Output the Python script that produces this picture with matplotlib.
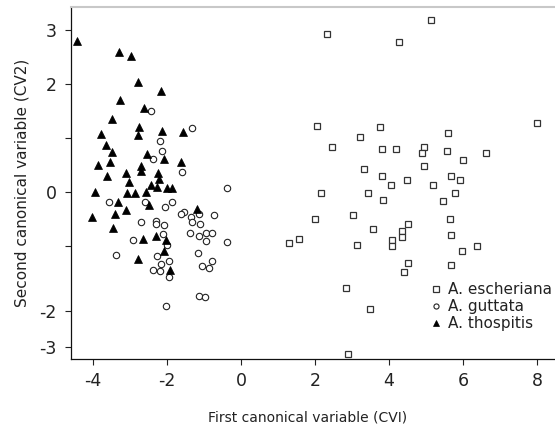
import matplotlib
matplotlib.use("Agg")
import matplotlib.pyplot as plt

plt.rcParams['font.family'] = ['DejaVu Sans']
plt.rcParams['axes.unicode_minus'] = False

# ---- data ----
esch_x = [2.32, 4.27, 5.12, 2.06, 3.75, 3.21, 5.60, 7.98, 2.47, 3.80, 4.18, 4.94,
          4.88, 5.55, 6.00, 6.62, 3.33, 4.95, 3.82, 5.68, 5.92, 4.47, 4.05, 5.19,
          2.15, 3.42, 3.83, 5.78, 5.45, 3.02, 2.00, 3.57, 4.50, 4.36, 4.34, 4.07,
          4.07, 5.64, 5.68, 5.96, 6.36, 3.13, 1.58, 1.30, 4.52, 4.40, 5.67, 2.84,
          3.48, 2.90]
esch_y = [2.92, 2.78, 3.19, 1.22, 1.21, 1.02, 1.09, 1.27, 0.84, 0.79, 0.79, 0.84,
          0.72, 0.76, 0.59, 0.73, 0.42, 0.49, 0.30, 0.30, 0.22, 0.23, 0.14, 0.13,
          -0.02, -0.01, -0.15, -0.02, -0.17, -0.43, -0.49, -0.69, -0.59, -0.72, -0.83, -0.89,
          -0.99, -0.49, -0.80, -1.09, -1.00, -0.98, -0.86, -0.95, -1.31, -1.48, -1.35, -1.78,
          -2.17, -2.99]

gutt_x = [-2.43, -1.31, -2.19, -2.12, -2.37, -1.60, -0.37, -3.55, -2.59, -2.05, -1.87, -1.54,
          -1.62, -1.14, -0.73, -1.35, -2.70, -2.29, -2.30, -2.08, -1.33, -1.10, -0.95, -0.79,
          -1.37, -1.12, -2.09, -2.92, -0.93, -0.38, -1.99, -3.38, -1.16, -2.27, -1.95, -0.79,
          -2.16, -1.06, -0.85, -2.38, -2.19, -1.94, -1.12, -0.97, -2.01]
gutt_y = [1.51, 1.19, 0.95, 0.76, 0.62, 0.38, 0.08, -0.19, -0.19, -0.27, -0.18, -0.36,
          -0.41, -0.41, -0.43, -0.47, -0.56, -0.53, -0.60, -0.61, -0.56, -0.60, -0.75, -0.76,
          -0.76, -0.81, -0.78, -0.89, -0.90, -0.93, -0.98, -1.16, -1.12, -1.19, -1.28, -1.28,
          -1.34, -1.37, -1.40, -1.44, -1.46, -1.57, -1.92, -1.94, -2.11]

thos_x = [-4.43, -3.28, -2.96, -2.79, -2.16, -3.27, -2.62, -3.47, -2.75, -3.78, -2.77, -2.14,
          -1.55, -3.63, -3.49, -2.53, -2.08, -1.63, -3.85, -3.52, -2.70, -2.70, -3.62, -3.11,
          -2.23, -3.01, -2.20, -2.44, -2.27, -1.99, -1.87, -3.95, -3.08, -2.87, -2.57, -3.32,
          -2.49, -3.09, -3.39, -4.02, -1.19, -3.46, -2.64, -2.30, -2.02, -2.07, -2.79, -1.91]
thos_y = [2.80, 2.60, 2.51, 2.04, 1.87, 1.70, 1.55, 1.36, 1.20, 1.07, 1.06, 1.13,
          1.11, 0.88, 0.74, 0.70, 0.61, 0.56, 0.51, 0.56, 0.49, 0.39, 0.29, 0.36,
          0.36, 0.19, 0.24, 0.14, 0.10, 0.07, 0.07, 0.01, -0.01, -0.02, 0.01, -0.19,
          -0.24, -0.33, -0.41, -0.46, -0.31, -0.66, -0.86, -0.82, -0.89, -1.10, -1.23, -1.44]

series_names = ["A. escheriana", "A. guttata", "A. thospitis"]

x_ticks = [-4, -2, 0, 2, 4, 6, 8]
x_tick_labels = ["-4", "-2", "0", "2", "4", "6", "8"]
y_ticks = [3, 2, 1, 0, -1, -2.2, -2.87]
y_tick_labels = ["3", "2", "", "0", "", "-2", "-3"]

x_label = "First canonical variable (CVI)"
y_label = "Second canonical variable (CV2)"

# ---- figure ----
fig = plt.figure(figsize=(5.55, 4.34), dpi=100)
ax = fig.add_axes([71/555, 1 - 359/434, 1 - 71/555, (359 - 7)/434])

ax.plot(esch_x, esch_y, linestyle='none', marker='s', markersize=4.6,
        markerfacecolor='white', markeredgecolor='#333333', markeredgewidth=0.9,
        label=series_names[0])
ax.plot(gutt_x, gutt_y, linestyle='none', marker='o', markersize=4.6,
        markerfacecolor='white', markeredgecolor='#222222', markeredgewidth=0.8,
        label=series_names[1])
ax.plot(thos_x, thos_y, linestyle='none', marker='^', markersize=5.6,
        markerfacecolor='black', markeredgecolor='black', markeredgewidth=0.5,
        label=series_names[2])

ax.set_xlim(-4.586, 8.478)
ax.set_ylim(-3.09, 3.426)

ax.set_xticks(x_ticks)
ax.set_xticklabels(x_tick_labels)
ax.set_yticks(y_ticks)
ax.set_yticklabels(y_tick_labels)

ax.tick_params(axis='both', direction='out', length=4.5, width=0.8,
               labelsize=12.5, colors='#222222')
ax.tick_params(axis='x', pad=5)
ax.tick_params(axis='y', pad=6)

for s in ['left', 'bottom']:
    ax.spines[s].set_color('#111111')
    ax.spines[s].set_linewidth(0.9)
ax.spines['top'].set_color('#c8c8c8')
ax.spines['top'].set_linewidth(1.5)
ax.spines['right'].set_visible(False)

ax.set_xlabel(x_label, fontsize=10, color='#222222')
ax.set_ylabel(y_label, fontsize=11, color='#222222')
ax.xaxis.set_label_coords(0.488, -0.145)
ax.yaxis.set_label_coords(-0.085, 0.5)

leg = ax.legend(loc='upper left', bbox_to_anchor=(0.742, 0.218), frameon=False,
                fontsize=11, handlelength=0.8, handletextpad=0.35, borderpad=0,
                borderaxespad=0, labelspacing=0.12, markerscale=0.8)
for t in leg.get_texts():
    t.set_color('#222222')

fig.savefig("out.png", dpi=100)
